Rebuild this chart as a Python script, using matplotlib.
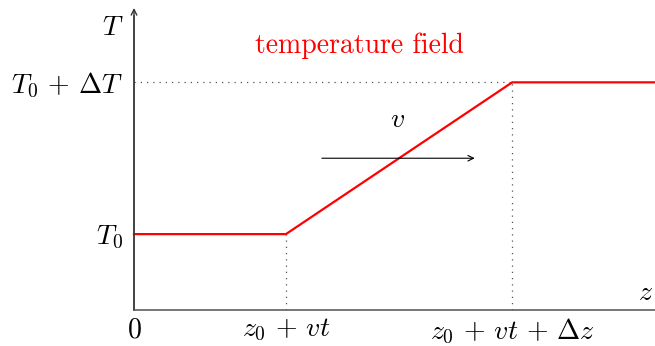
import matplotlib
matplotlib.use('Agg')
import matplotlib.pyplot as plt

plt.rcParams.update({
    'mathtext.fontset': 'cm',
    'font.family': 'serif',
    'font.serif': ['cmr10', 'DejaVu Serif'],
    'axes.formatter.use_mathtext': True,
})

# profile breakpoints along z and temperature levels
z_points = [0.0, 1.0, 2.49, 3.43]
T_points = [0.5, 0.5, 1.5, 1.5]
z_ticks = [0.0, 1.0, 2.49]
z_labels = ['$0$', '$z_0 \\,+\\, vt$', '$z_0 \\,+\\, vt \\,+\\, \\Delta z$']
T_ticks = [0.5, 1.5]
T_labels = ['$T_0$', '$T_0 \\,+\\, \\Delta T$']

ZMAX, TMAX = 3.43, 1.99
AXIS_GRAY = '#777777'
FS = 20

fig = plt.figure(figsize=(6.55, 3.46), dpi=100)
ax = fig.add_axes([0.2046, 0.104, 1 - 0.2046, 0.977 - 0.104])
ax.set_xlim(0, ZMAX)
ax.set_ylim(0, TMAX)
for s in ax.spines.values():
    s.set_visible(False)

# axes: plain z axis, arrowed T axis
ax.plot([0, ZMAX], [0, 0], color=AXIS_GRAY, lw=1.4, clip_on=False,
        solid_capstyle='butt')
ax.annotate('', xy=(0, TMAX), xytext=(0, 0),
            arrowprops=dict(arrowstyle='->', color='#333333', lw=1.0,
                            shrinkA=0, shrinkB=0), annotation_clip=False)
ax.plot([0, 0], [0, TMAX - 0.05], color=AXIS_GRAY, lw=1.4, clip_on=False)

# guide lines
dots = dict(color='#555555', lw=0.9, ls=(0, (1, 4)))
ax.plot([0, z_points[2]], [T_points[2], T_points[2]], **dots)
ax.plot([z_points[1], z_points[1]], [0, T_points[1]], **dots)
ax.plot([z_points[2], z_points[2]], [0, T_points[2]], **dots)

# temperature profile
ax.plot(z_points, T_points, color='red', lw=1.6, clip_on=False)

# velocity arrow
ax.annotate('', xy=(2.243, 1.0), xytext=(1.237, 1.0),
            arrowprops=dict(arrowstyle='->', color='black', lw=0.8,
                            shrinkA=0, shrinkB=0))
ax.text(1.737, 1.25, '$v$', fontsize=FS, ha='center', va='center')

ax.text(1.487, 1.743, 'temperature field', color='red', fontsize=FS,
        ha='center', va='center')
ax.text(-0.14, 1.86, '$T$', fontsize=FS, ha='center', va='center')
ax.text(3.37, 0.11, '$z$', fontsize=FS, ha='center', va='center')

ax.set_xticks(z_ticks)
ax.set_xticklabels(z_labels, fontsize=FS)
ax.set_yticks(T_ticks)
ax.set_yticklabels(T_labels, fontsize=FS)
ax.tick_params(axis='both', length=0)
ax.tick_params(axis='x', pad=5)
ax.tick_params(axis='y', pad=8)

fig.savefig('out.png', dpi=100)
